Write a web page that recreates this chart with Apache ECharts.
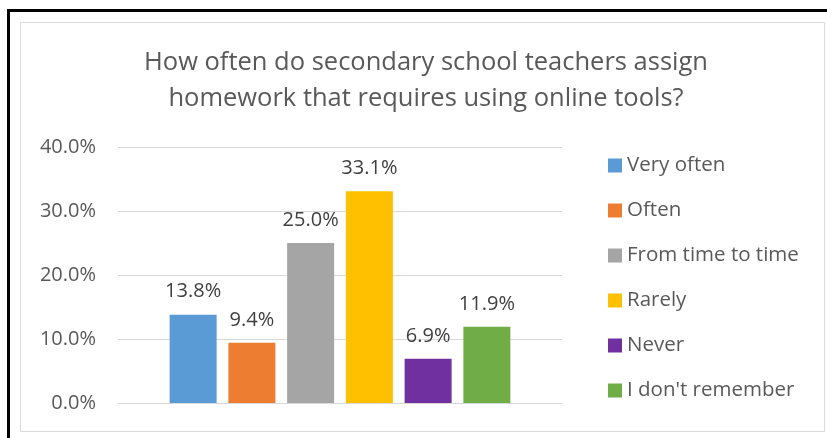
<!DOCTYPE html>
<html>
<head>
<meta charset="utf-8">
<script src="https://cdn.jsdelivr.net/npm/echarts@6/dist/echarts.min.js"></script>
<style>
  html, body { margin: 0; padding: 0; background: #ffffff; }
  #chart { width: 827px; height: 438px; }
</style>
</head>
<body>
<div id="chart"></div>
<script>
// Survey answers: how often homework requires online tools
const titleText = 'How often do secondary school teachers assign\nhomework that requires using online tools?';
const categories = [''];
const seriesNames = ['Very often', 'Often', 'From time to time', 'Rarely', 'Never', "I don't remember"];
const seriesValues = [13.8, 9.4, 25.0, 33.1, 6.9, 11.9];
const seriesColors = ['#5B9BD5', '#ED7D31', '#A5A5A5', '#FFC000', '#7030A0', '#70AD47'];
const yTicks = [0, 10, 20, 30, 40];

const FONT = '"Open Sans", "Noto Sans", sans-serif';

const chart = echarts.init(document.getElementById('chart'), null, { renderer: 'canvas' });

const series = seriesNames.map((name, i) => ({
  name: name,
  type: 'bar',
  data: [seriesValues[i]],
  barWidth: 47,
  barGap: '25%',
  itemStyle: { color: seriesColors[i] },
  label: {
    show: true,
    position: 'top',
    distance: 13,
    formatter: p => p.value.toFixed(1) + '%',
    color: '#404040',
    fontFamily: FONT,
    fontSize: 20
  },
  emphasis: { disabled: true }
}));

chart.setOption({
  animation: false,
  backgroundColor: '#ffffff',
  title: {
    text: titleText,
    left: 421,
    textAlign: 'center',
    top: 40,
    textStyle: {
      color: '#595959',
      fontFamily: FONT,
      fontSize: 25.5,
      fontWeight: 'normal',
      lineHeight: 36
    }
  },
  legend: {
    orient: 'vertical',
    left: 603,
    top: 150,
    itemWidth: 14,
    itemHeight: 14,
    itemGap: 24,
    icon: 'rect',
    data: seriesNames,
    textStyle: {
      color: '#595959',
      fontFamily: FONT,
      fontSize: 20.5
    }
  },
  grid: { left: 118, right: 265, top: 147, bottom: 35 },
  xAxis: {
    type: 'category',
    data: categories,
    axisLine: { show: true, lineStyle: { color: '#D9D9D9', width: 1 } },
    axisTick: { show: false },
    axisLabel: { show: false }
  },
  yAxis: {
    type: 'value',
    min: yTicks[0],
    max: yTicks[yTicks.length - 1],
    interval: yTicks[1] - yTicks[0],
    axisLine: { show: false },
    axisTick: { show: false },
    splitLine: { lineStyle: { color: '#D9D9D9', width: 1 } },
    axisLabel: {
      formatter: v => v.toFixed(1) + '%',
      color: '#595959',
      fontFamily: FONT,
      fontSize: 20,
      margin: 22
    }
  },
  graphic: [
    {
      type: 'rect',
      shape: { x: 20.5, y: 22.5, width: 804, height: 409 },
      style: { fill: null, stroke: '#D9D9D9', lineWidth: 1 },
      silent: true,
      z: -1
    },
    {
      type: 'rect',
      shape: { x: 7, y: 9, width: 3, height: 429 },
      style: { fill: '#000000' },
      silent: true
    },
    {
      type: 'rect',
      shape: { x: 7, y: 9, width: 820, height: 3 },
      style: { fill: '#000000' },
      silent: true
    }
  ],
  series: series
});
</script>
</body>
</html>
